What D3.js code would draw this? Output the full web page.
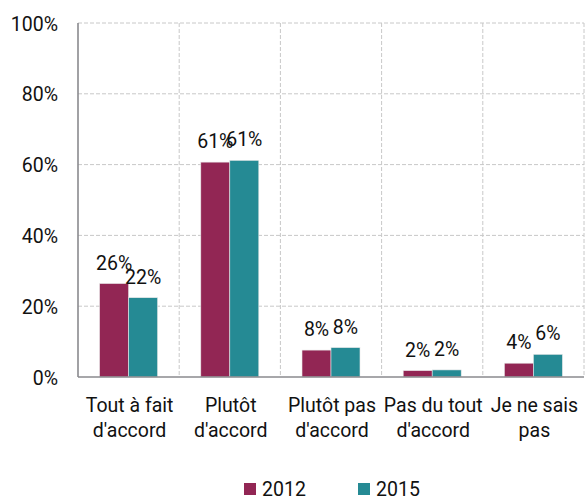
<!DOCTYPE html>
<html>
<head>
<meta charset="utf-8">
<script src="https://cdn.jsdelivr.net/npm/d3@7"></script>
<style>
  html, body { margin: 0; padding: 0; background: #fff; }
  svg { display: block; }
  text { font-family: Roboto, "Noto Sans", sans-serif; fill: #111; }
</style>
</head>
<body>
<svg id="chart" width="585" height="499"></svg>
<script>
const categories = [["Tout à fait", "d'accord"], ["Plutôt", "d'accord"], ["Plutôt pas", "d'accord"], ["Pas du tout", "d'accord"], ["Je ne sais", "pas"]];
const seriesNames = ["2012", "2015"];
const values2012 = [26.4, 60.7, 7.6, 1.8, 3.9];
const values2015 = [22.4, 61.2, 8.3, 2.0, 6.4];
const yTicks = [0, 20, 40, 60, 80, 100];
const colors = ["#922654", "#258a94"];

const svg = d3.select("#chart");
const margin = { left: 78, top: 23, right: 1, bottom: 122 };
const W = 585, H = 499;
const innerW = W - margin.left - margin.right;
const innerH = H - margin.top - margin.bottom;
const g = svg.append("g").attr("transform", `translate(${margin.left},${margin.top})`);

const idx = d3.range(categories.length);
const x0 = d3.scaleBand().domain(idx).range([0, innerW]).padding(0);
const x1 = d3.scaleBand().domain(seriesNames).range([0, x0.bandwidth()]).paddingInner(0).paddingOuter(0.745);
const y = d3.scaleLinear().domain([0, 100]).range([innerH, 0]);

// horizontal grid
g.append("g").selectAll("line").data(yTicks.filter(d => d > 0)).join("line")
  .attr("x1", 0).attr("x2", innerW)
  .attr("y1", d => y(d)).attr("y2", d => y(d))
  .attr("stroke", "#c8c8c8").attr("stroke-width", 1).attr("stroke-dasharray", "4,2");
// vertical grid
g.append("g").selectAll("line").data(idx).join("line")
  .attr("x1", d => x0(d) + x0.bandwidth()).attr("x2", d => x0(d) + x0.bandwidth())
  .attr("y1", 0).attr("y2", innerH)
  .attr("stroke", "#c8c8c8").attr("stroke-width", 1).attr("stroke-dasharray", "4,2");

// y axis
const yAxis = d3.axisLeft(y).tickValues(yTicks).tickFormat(d => d + "%").tickSize(0).tickPadding(20);
const ya = g.append("g").call(yAxis);
ya.select(".domain").remove();
ya.selectAll("text").attr("font-size", 19.5).attr("font-family", "Roboto, sans-serif").attr("fill", "#111").attr("dy", "0.36em");

// bars
const series = [values2012, values2015];
series.forEach((vals, si) => {
  g.append("g").selectAll("rect").data(idx).join("rect")
    .attr("x", d => x0(d) + x1(seriesNames[si]))
    .attr("width", x1.bandwidth())
    .attr("y", d => y(vals[d]))
    .attr("height", d => y(0) - y(vals[d]))
    .attr("fill", colors[si])
    .attr("stroke", "#e8e8e8").attr("stroke-width", 0.6);
  g.append("g").selectAll("text").data(idx).join("text")
    .attr("x", d => x0(d) + x1(seriesNames[si]) + x1.bandwidth() / 2)
    .attr("y", d => y(vals[d]) - 14)
    .attr("text-anchor", "middle")
    .attr("font-size", 19.5)
    .text(d => Math.round(vals[d]) + "%");
});

// axis lines
g.append("line").attr("x1", 0).attr("x2", 0).attr("y1", 0).attr("y2", innerH)
  .attr("stroke", "#8a8a8e").attr("stroke-width", 1.6);
g.append("line").attr("x1", 0).attr("x2", innerW).attr("y1", innerH).attr("y2", innerH)
  .attr("stroke", "#8a8a8e").attr("stroke-width", 1.6);

// category labels
const xAxis = d3.axisBottom(x0).tickSize(0).tickFormat("");
const xa = g.append("g").attr("transform", `translate(0,${innerH})`).call(xAxis);
xa.select(".domain").remove();
xa.selectAll(".tick").each(function(d) {
  const t = d3.select(this).append("text")
    .attr("text-anchor", "middle").attr("font-size", 19.5)
    .attr("font-family", "Roboto, sans-serif").attr("fill", "#111");
  categories[d].forEach((line, i) => {
    t.append("tspan").attr("x", 1).attr("y", 35 + i * 25).text(line);
  });
});

// legend
const legendX = [244, 358];
const leg = svg.append("g");
seriesNames.forEach((name, i) => {
  leg.append("rect").attr("x", legendX[i]).attr("y", 483).attr("width", 12).attr("height", 12).attr("fill", colors[i]);
  leg.append("text").attr("x", legendX[i] + 18).attr("y", 495.5).attr("font-size", 19.5).text(name);
});
</script>
</body>
</html>
